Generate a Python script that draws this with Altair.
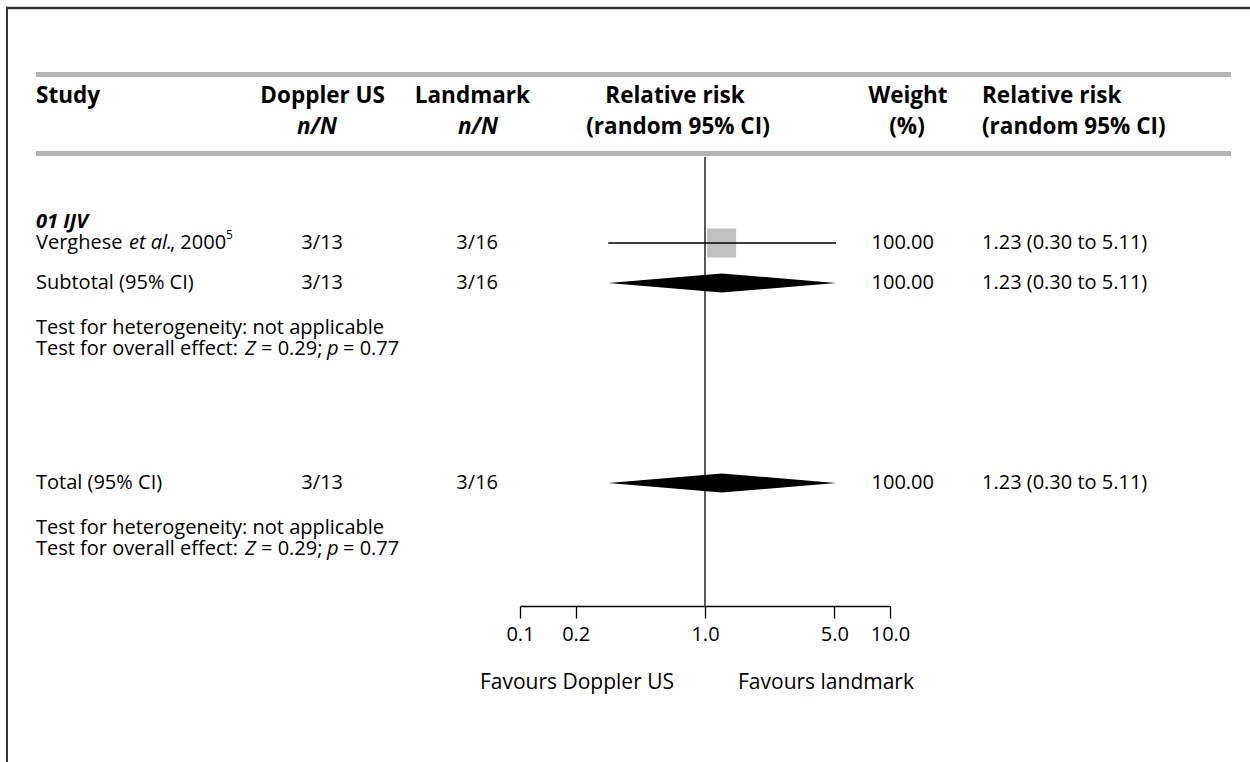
import altair as alt
import pandas as pd

# ---------------- data ----------------
group_label = "01 IJV"
study_authors = ["Verghese"]
study_years = [2000]
study_refs = ["5"]
doppler_events = [3]
doppler_total = [13]
landmark_events = [3]
landmark_total = [16]
study_rr = [1.23]
study_low = [0.30]
study_high = [5.11]
study_weight = [100.00]

subtotal_rr, subtotal_low, subtotal_high = 1.23, 0.30, 5.11
total_rr, total_low, total_high = 1.23, 0.30, 5.11
heterogeneity_note = "not applicable"
z_stat = 0.29
p_value = 0.77
axis_ticks = [0.1, 0.2, 1.0, 5.0, 10.0]

# ---------------- layout ----------------
W, H = 1250, 762
FONT = "Open Sans"
FS = 20
HFS = 22.5
INK = "#000000"
X_LEFT = 36
X_DOP = 343
X_LM = 498
X_WT = 934
X_RR = 982
AXIS_Y = 606
ROW = {
    "head1": 96, "head2": 127,
    "group": 222, "study": 243, "subtotal": 283,
    "het1": 328, "eff1": 349,
    "total": 483, "het2": 528, "eff2": 549,
    "favours": 683,
}

x_axis = alt.Axis(
    values=axis_ticks, format=".1f", orient="bottom", offset=AXIS_Y - H,
    title=None, grid=False, domainColor=INK, domainWidth=1.3,
    tickColor=INK, tickWidth=1.3, tickSize=12, labelFont=FONT,
    labelFontSize=FS, labelColor=INK, labelPadding=6, labelFlush=False,
    labelOverlap=False,
)
x_scale = alt.Scale(type="log", domain=[0.1, 10], range=[520, 890])
y_scale = alt.Scale(domain=[0, H], reverse=True, nice=False, zero=False)


def label(text, x, y, align="left", weight="normal", style="normal", size=FS):
    return alt.Chart(pd.DataFrame({"t": [text]})).mark_text(
        align=align, baseline="middle", font=FONT, fontSize=size,
        fontWeight=weight, fontStyle=style, color=INK,
    ).encode(x=alt.value(x), y=alt.value(y), text="t:N")


def head(text, x, y, align="left", style="normal"):
    return label(text, x, y, align=align, weight="bold", style=style, size=HFS)


def hline(x1, x2, y, color, width):
    return alt.Chart(pd.DataFrame({"k": [0]})).mark_rule(
        color=color, strokeWidth=width
    ).encode(x=alt.value(x1), x2=alt.value(x2), y=alt.value(y))


layers = []

# frame and header rules
layers.append(hline(6, W, 8, "#333333", 2.5))
layers.append(alt.Chart(pd.DataFrame({"k": [0]})).mark_rule(
    color="#333333", strokeWidth=2).encode(
    x=alt.value(7), y=alt.value(8), y2=alt.value(H)))
layers.append(hline(X_LEFT, 1231, 74.5, "#b4b4b4", 5))
layers.append(hline(X_LEFT, 1231, 153.5, "#b4b4b4", 5))

# header text
layers += [
    head("Study", X_LEFT, ROW["head1"]),
    head("Doppler US", 385, ROW["head1"], align="right"),
    head("n/N", 337, ROW["head2"], align="right", style="italic"),
    head("Landmark", 530, ROW["head1"], align="right"),
    head("n/N", 498, ROW["head2"], align="right", style="italic"),
    head("Relative risk", 675, ROW["head1"], align="center"),
    head("(random 95% CI)", 678, ROW["head2"], align="center"),
    head("Weight", 908, ROW["head1"], align="center"),
    head("(%)", 907, ROW["head2"], align="center"),
    head("Relative risk", X_RR, ROW["head1"]),
    head("(random 95% CI)", X_RR, ROW["head2"]),
]

# group heading
layers.append(label(group_label, X_LEFT, ROW["group"], weight="bold", style="italic"))


def ci_text(r, lo, hi):
    return f"{r:.2f} ({lo:.2f} to {hi:.2f})"


# study row
i = 0
y = ROW["study"]
layers += [
    label(study_authors[i], X_LEFT, y),
    label("et al.", 129, y, style="italic"),
    label(f", {study_years[i]}", 170, y),
    label(study_refs[i], 226, y - 8, size=12),
    label(f"{doppler_events[i]}/{doppler_total[i]}", X_DOP, y, align="right"),
    label(f"{landmark_events[i]}/{landmark_total[i]}", X_LM, y, align="right"),
    label(f"{study_weight[i]:.2f}", X_WT, y, align="right"),
    label(ci_text(study_rr[i], study_low[i], study_high[i]), X_RR, y),
]

pooled_n = f"{sum(doppler_events)}/{sum(doppler_total)}"
pooled_l = f"{sum(landmark_events)}/{sum(landmark_total)}"
pooled_w = f"{sum(study_weight):.2f}"

for key, name, r, lo, hi in [
    ("subtotal", "Subtotal (95% CI)", subtotal_rr, subtotal_low, subtotal_high),
    ("total", "Total (95% CI)", total_rr, total_low, total_high),
]:
    y = ROW[key]
    layers += [
        label(name, X_LEFT, y),
        label(pooled_n, X_DOP, y, align="right"),
        label(pooled_l, X_LM, y, align="right"),
        label(pooled_w, X_WT, y, align="right"),
        label(ci_text(r, lo, hi), X_RR, y),
    ]

for het, eff in [("het1", "eff1"), ("het2", "eff2")]:
    layers += [
        label(f"Test for heterogeneity: {heterogeneity_note}", X_LEFT, ROW[het]),
        label("Test for overall effect:", X_LEFT, ROW[eff]),
        label("Z", 245, ROW[eff], style="italic"),
        label(f"= {z_stat:.2f};", 261, ROW[eff]),
        label("p", 327, ROW[eff], style="italic"),
        label(f"= {p_value:.2f}", 343, ROW[eff]),
    ]

# study marker: weight square and confidence interval
study_df = pd.DataFrame({
    "rr": study_rr, "low": study_low, "high": study_high,
    "y": [ROW["study"]] * len(study_rr),
})
layers.append(alt.Chart(study_df).mark_square(
    size=841, color="#c0c0c0", opacity=1).encode(
    x=alt.X("rr:Q", scale=x_scale, axis=x_axis),
    y=alt.Y("y:Q", scale=y_scale, axis=None)))
layers.append(alt.Chart(study_df).mark_rule(color=INK, strokeWidth=1.3).encode(
    x=alt.X("low:Q", scale=x_scale, axis=x_axis), x2="high:Q",
    y=alt.Y("y:Q", scale=y_scale, axis=None)))

# pooled diamonds
half = 9.5
rows = []
for key, r, lo, hi in [("subtotal", subtotal_rr, subtotal_low, subtotal_high),
                       ("total", total_rr, total_low, total_high)]:
    yc = ROW[key]
    rows += [
        {"g": key, "x": lo, "top": yc, "bot": yc},
        {"g": key, "x": r, "top": yc - half, "bot": yc + half},
        {"g": key, "x": hi, "top": yc, "bot": yc},
    ]
diamond_df = pd.DataFrame(rows)
layers.append(alt.Chart(diamond_df).mark_area(color=INK, opacity=1).encode(
    x=alt.X("x:Q", scale=x_scale, axis=x_axis),
    y=alt.Y("top:Q", scale=y_scale, axis=None), y2="bot:Q",
    detail="g:N"))

# line of no effect
layers.append(alt.Chart(pd.DataFrame({"k": [0]})).mark_rule(
    color=INK, strokeWidth=1.3).encode(
    x=alt.datum(1.0, scale=x_scale), y=alt.value(157), y2=alt.value(AXIS_Y)))

# favours labels either side of 1.0
layers.append(alt.Chart(pd.DataFrame({"v": [1.0], "t": ["Favours Doppler US"]})).mark_text(
    align="right", baseline="middle", font=FONT, fontSize=21, color=INK, dx=-31).encode(
    x=alt.X("v:Q", scale=x_scale, axis=x_axis), y=alt.value(ROW["favours"]), text="t:N"))
layers.append(alt.Chart(pd.DataFrame({"v": [1.0], "t": ["Favours landmark"]})).mark_text(
    align="left", baseline="middle", font=FONT, fontSize=21, color=INK, dx=33).encode(
    x=alt.X("v:Q", scale=x_scale, axis=x_axis), y=alt.value(ROW["favours"]), text="t:N"))

chart = alt.layer(*layers).properties(
    width=W, height=H, autosize=alt.AutoSizeParams(type="none"), padding=0,
    background="white",
).configure_view(stroke=None)

chart.save("out.html", embed_options={"renderer": "svg", "actions": False})
